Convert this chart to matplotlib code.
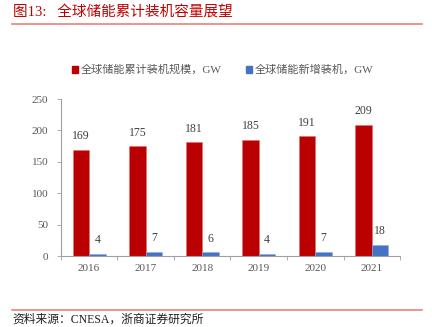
import numpy as np
import matplotlib.pyplot as plt
from matplotlib.lines import Line2D
from matplotlib.patches import Patch

plt.rcParams['font.family'] = ['Liberation Serif', 'Noto Sans CJK SC', 'DejaVu Sans']

years = ['2016', '2017', '2018', '2019', '2020', '2021']
cumulative = [169, 175, 181, 185, 191, 209]
new_added = [4, 7, 6, 4, 7, 18]
series_names = ['全球储能累计装机规模，GW', '全球储能新增装机，GW']

red = '#BA0000'
blue = '#4472C4'
gray = '#595959'

fig = plt.figure(figsize=(4.32, 3.27), dpi=100)
ax = fig.add_axes([0.141, 0.217, 0.785, 0.48])

x = np.arange(len(years))
w = 0.29
ax.bar(x - w/2, cumulative, w, color=red, edgecolor='#E07070', linewidth=0.4)
ax.bar(x + w/2, new_added, w, color=blue, edgecolor='#8FAADC', linewidth=0.4)

# 数据标签
for i in range(len(years)):
    ax.text(x[i] - w/2, cumulative[i] + 12, str(cumulative[i]), ha='center', va='bottom',
            fontsize=8.5, color='#404040')
    ax.text(x[i] + w/2, new_added[i] + 12, str(new_added[i]), ha='center', va='bottom',
            fontsize=8.5, color='#404040')

ax.set_xlim(-0.5, len(years) - 0.5)
ax.set_ylim(0, 250)
ax.set_yticks(range(0, 251, 50))
ax.set_xticks(x)
ax.set_xticklabels(years)
ax.set_xticks(np.arange(-0.5, len(years)), minor=True)
ax.tick_params(axis='x', which='major', length=0, pad=6, labelsize=8, labelcolor=gray)
ax.tick_params(axis='x', which='minor', length=3, color='#A0A0A0', width=0.6)
ax.tick_params(axis='y', length=3, color='#A0A0A0', width=0.6, pad=6, labelsize=8, labelcolor=gray)
for s in ['top', 'right']:
    ax.spines[s].set_visible(False)
for s in ['left', 'bottom']:
    ax.spines[s].set_color('#A0A0A0')
    ax.spines[s].set_linewidth(0.8)

handles = [Patch(color=red), Patch(color=blue)]
fig.legend(handles, series_names, loc='center', bbox_to_anchor=(0.515, 0.786), ncol=2,
           frameon=False, fontsize=8, labelcolor=gray, handlelength=0.6, handleheight=0.6,
           handletextpad=0.2, columnspacing=2.2)

fig.text(0.03, 0.965, '图13:   全球储能累计装机容量展望', fontsize=10.5, color='#C00000',
         ha='left', va='center')
fig.add_artist(Line2D([0.028, 0.977], [0.927, 0.927], color='#E98080', lw=1.2))
fig.add_artist(Line2D([0.028, 0.977], [0.052, 0.052], color='#E98080', lw=1.2))
fig.text(0.028, 0.024, '资料来源：CNESA，浙商证券研究所', fontsize=8.5, color='#202020',
         ha='left', va='center')

plt.savefig('out.png', dpi=100)
